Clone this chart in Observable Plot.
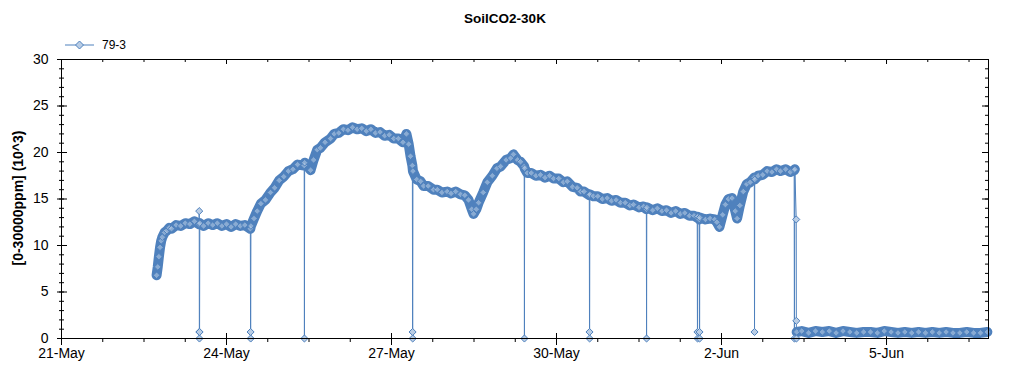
<!DOCTYPE html>
<html>
<head>
<meta charset="utf-8">
<script src="https://cdn.jsdelivr.net/npm/d3@7"></script>
<script src="https://cdn.jsdelivr.net/npm/@observablehq/plot@0.6"></script>
<style>
  html, body { margin: 0; padding: 0; background: #fff; }
  #wrap { position: relative; width: 1024px; height: 375px; font-family: "Liberation Sans", Arial, sans-serif; }
  #title { position: absolute; left: 505px; top: 11px; transform: translateX(-50%); font-weight: bold; font-size: 13.5px; white-space: nowrap; }
  #ylabel { position: absolute; left: 18px; top: 198px; transform: translate(-50%, -50%) rotate(-90deg); font-weight: bold; font-size: 14px; white-space: nowrap; }
  #legend { position: absolute; left: 62px; top: 37px; }
</style>
</head>
<body>
<div id="wrap">
  <div id="chart"></div>
  <div id="title">SoilCO2-30K</div>
  <div id="ylabel">[0-30000ppm] (10^3)</div>
  <svg id="legend" width="90" height="16"></svg>
</div>
<script>
// ---- data (hours since 21-May 00:00, CO2 in 10^3 ppm) ----
const seriesName = "79-3";
const startDay = "2015-05-21";

const hours = [
  41.5, 42, 42.5, 43, 43.5, 44, 45, 46, 47, 48,
  50, 52, 54, 56, 58, 60, 60.35, 62, 64, 66,
  68, 70, 72, 74, 76, 78, 80, 82.4, 82.65, 84,
  85.4, 87, 89, 91.2, 93, 95, 97, 99, 101, 103,
  105.9, 106.1, 108.7, 110, 111.6, 113, 115, 117.4, 119, 121,
  123, 125, 127, 129, 131, 133, 135, 137, 139, 141,
  143, 145, 147, 149, 150.5, 151.5, 152.3, 153.1, 153.35, 155,
  156.7, 158, 160, 162.3, 164, 166, 168.3, 170, 172, 174.1,
  176, 177.6, 179, 179.8, 181, 182, 184, 185.8, 188, 190,
  191.6, 194, 196, 197.2, 199, 200.3, 201.9, 202.1, 203.2, 205,
  207, 209, 211, 213, 214.7, 217, 219, 220.7, 223, 225,
  226.5, 228, 230.3, 230.55, 232.1, 234, 236, 238.1, 240, 242,
  243.9, 246, 248, 249.6, 252, 254, 255.2, 255.4, 258, 260,
  262, 264, 266, 268, 270, 272, 274, 276, 277.4, 277.65,
  278.3, 278.5, 281, 283, 285, 286, 287.1, 288.5, 289.7, 291,
  292.6, 294, 294.8, 296, 297.5, 299, 300.5, 302.3, 302.5, 304,
  306, 307.9, 310, 312, 313.7, 316, 318, 319.7, 320.0, 320.3,
  320.8, 323, 326, 329, 332, 335, 338, 341, 344, 347,
  350, 353, 356, 359, 362, 365, 368, 371, 374, 377,
  380, 383, 386, 389, 392, 395, 398, 401, 404
];
const co2 = [
  6.8, 7.7, 8.8, 9.8, 10.5, 10.9, 11.4, 11.6, 11.9, 11.8,
  12.2, 12.1, 12.4, 12.3, 12.6, 12.3, 12.4, 12.1, 12.4, 12.2,
  12.4, 12.1, 12.3, 12.0, 12.3, 12.1, 12.2, 11.8, 12.1, 12.9,
  13.7, 14.5, 14.9, 15.7, 16.2, 17.0, 17.4, 18.0, 18.2, 18.7,
  18.6, 18.9, 18.1, 19.2, 20.3, 20.5, 21.1, 21.5, 22.0, 22.1,
  22.5, 22.4, 22.7, 22.5, 22.6, 22.3, 22.5, 22.1, 22.2, 21.8,
  21.9, 21.5, 21.5, 21.1, 22.0, 20.9, 19.6, 18.6, 18.0, 17.1,
  16.9, 16.4, 16.4, 16.0, 16.0, 15.7, 15.8, 15.6, 15.8, 15.5,
  15.4, 14.9, 13.9, 13.4, 13.9, 14.6, 15.7, 16.8, 17.5, 18.3,
  18.5, 19.2, 19.4, 19.8, 19.2, 19.0, 18.5, 18.3, 17.8, 17.8,
  17.5, 17.6, 17.3, 17.5, 17.2, 17.2, 16.8, 16.9, 16.3, 16.2,
  15.8, 15.8, 15.4, 15.5, 15.3, 15.3, 15.0, 15.1, 14.8, 14.9,
  14.6, 14.6, 14.3, 14.4, 14.1, 14.2, 13.9, 14.1, 13.8, 14.0,
  13.7, 13.8, 13.5, 13.7, 13.4, 13.5, 13.2, 13.2, 13.0, 13.1,
  12.8, 13.0, 12.8, 12.9, 12.8, 12.5, 12.0, 13.3, 14.4, 15.0,
  15.1, 13.7, 12.9, 14.3, 15.8, 16.6, 16.8, 17.3, 17.1, 17.5,
  17.6, 18.0, 17.9, 18.2, 18.0, 18.2, 17.9, 18.1, 18.2, null,
  0.7, 0.8, 0.6, 0.8, 0.7, 0.8, 0.6, 0.8, 0.7, 0.6,
  0.7, 0.7, 0.6, 0.8, 0.7, 0.6, 0.7, 0.6, 0.7, 0.6,
  0.7, 0.6, 0.7, 0.6, 0.6, 0.7, 0.6, 0.6, 0.7
];
// isolated drop-out / spike readings
const dropHours = [60.1, 60.15, 60.2, 60.25, 82.5, 82.55, 106.0, 153.2, 153.25, 202.0, 230.4, 230.45, 255.3, 277.5, 277.55, 278.4, 278.45, 302.4, 319.8, 320.6, 320.65, 320.7];
const dropCo2  = [13.7, 0.7, 0, 0.7, 0.7, 0, 0, 0.7, 0, 0, 0.7, 0, 0, 0.7, 0, 0.7, 0, 0.7, 0, 12.8, 1.9, 0];

const yTicks = [0, 5, 10, 15, 20, 25, 30];
const xEndHour = 404.5;

if (hours.length !== co2.length) throw new Error("length mismatch " + hours.length + " vs " + co2.length);
if (dropHours.length !== dropCo2.length) throw new Error("drop length mismatch");

// ---- build ----
const T0 = new Date(startDay + "T00:00:00Z").getTime();
const toDate = h => new Date(T0 + h * 3600e3);

const regular = hours.map((h, i) => ({t: toDate(h), v: co2[i]}));
const drops = dropHours.map((h, i) => ({t: toDate(h), v: dropCo2[i]}));
const all = regular.filter(d => d.v != null).concat(drops).sort((a, b) => a.t - b.t);

// major ticks every 3 days from 21-May, minor ticks every 18 hours
const majorX = d3.range(0, xEndHour, 72).map(toDate);
const minorX = d3.range(0, xEndHour, 18).map(toDate);
const minorY = d3.range(0, 31, 1);

const blue = "#4f81bd";
const light = "#b9cde5";

const chart = Plot.plot({
  width: 1024,
  height: 375,
  marginLeft: 61,
  marginRight: 36,
  marginTop: 59,
  marginBottom: 37,
  x: {type: "utc", domain: [toDate(0), toDate(xEndHour)]},
  y: {domain: [0, 30]},
  style: {fontFamily: "'Liberation Sans', Arial, sans-serif", fontSize: "14px", color: "black", background: "white", overflow: "visible"},
  marks: [
    // tick marks
    Plot.tickX(minorX, {stroke: "black", insetTop: 279, insetBottom: -4}),
    Plot.tickX(majorX, {stroke: "black", insetTop: 274, insetBottom: -7}),
    Plot.tickX(minorX, {stroke: "black", insetTop: 0, insetBottom: 276}),
    Plot.tickX(majorX, {stroke: "black", insetTop: 0, insetBottom: 274}),
    Plot.tickY(minorY, {stroke: "black", insetLeft: -2, insetRight: 924}),
    Plot.tickY(yTicks, {stroke: "black", insetLeft: -4, insetRight: 921}),
    Plot.tickY(minorY, {stroke: "black", insetLeft: 924, insetRight: 0}),
    Plot.tickY(yTicks, {stroke: "black", insetLeft: 921, insetRight: 0}),
    Plot.axisX(majorX, {tickSize: 0, tickPadding: 10, tickFormat: d3.utcFormat("%-d-%b"), label: null, fontSize: 14}),
    Plot.axisY(yTicks, {tickSize: 0, tickPadding: 13, label: null, fontSize: 14}),
    // data
    Plot.line(all, {x: "t", y: "v", stroke: blue, strokeWidth: 1}),
    Plot.line(regular, {x: "t", y: "v", stroke: blue, strokeWidth: 10, strokeLinejoin: "round", strokeLinecap: "round"}),
    Plot.dot(regular.filter(d => d.v != null), {x: "t", y: "v", symbol: "diamond2", r: 3, fill: light, fillOpacity: 0.55, stroke: blue, strokeWidth: 1}),
    Plot.dot(drops, {x: "t", y: "v", symbol: "diamond2", r: 3.2, fill: light, stroke: blue, strokeWidth: 1}),
    Plot.frame({stroke: "black"})
  ]
});
document.getElementById("chart").appendChild(chart);

// legend
const lg = d3.select("#legend");
lg.append("line").attr("x1", 3).attr("x2", 32).attr("y1", 8).attr("y2", 8).attr("stroke", blue);
lg.append("path").attr("d", "M17.5,4L21.5,8L17.5,12L13.5,8Z").attr("fill", light).attr("stroke", blue);
lg.append("text").attr("x", 40).attr("y", 12).attr("font-size", 12).attr("font-family", "'Liberation Sans', Arial, sans-serif").text(seriesName);
</script>
</body>
</html>
